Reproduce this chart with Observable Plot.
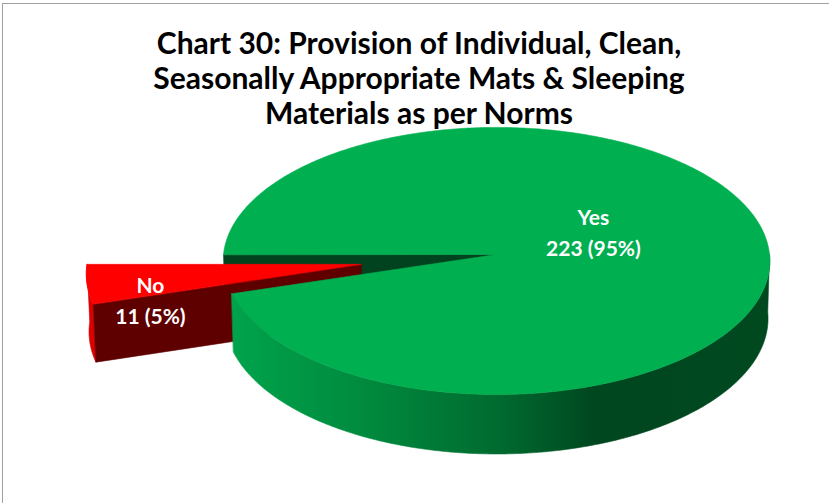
<!DOCTYPE html>
<html>
<head>
<meta charset="utf-8">
<script src="https://cdn.jsdelivr.net/npm/d3@7"></script>
<script src="https://cdn.jsdelivr.net/npm/@observablehq/plot@0.6"></script>
<style>
  body { margin: 0; background: #fff; }
  #wrap { position: relative; width: 829px; height: 503px; overflow: hidden; background: #fff; }
  #border { position: absolute; left: 2px; top: 3px; right: -10px; bottom: -10px;
            border-top: 1.5px solid #a0a0a0; border-left: 1.5px solid #a0a0a0; pointer-events: none; }
</style>
</head>
<body>
<div id="wrap"><div id="chart"></div><div id="border"></div></div>
<script>
// ---- data ----
const categories = ["Yes", "No"];
const values = [223, 11];
const titleLines = [
  "Chart 30: Provision of Individual, Clean,",
  "Seasonally Appropriate Mats & Sleeping",
  "Materials as per Norms"
];

// ---- styles ----
const topColors = ["#00b050", "#ff0000"];
const faceColors = ["#00431e", "#5e0000"];
const wallColors = ["url(#wallGrad0)", "#dc0000"];
const explode = [0, 0.5];
const labelRho = [0.36, 0.77];
const labelDy = [-17, 19];

// ---- 3D pie projection (perspective) ----
const W = 829, H = 503;
const cx = 496, cy = 254, K = 273;           // centre and scale (px per radius)
const rD = 0.0553;                            // radius / camera distance
const sinP = 0.488, cosP = 0.873;             // elevation
const thick = 0.243;                          // pie thickness in radii

function P(X, Y, Z) {
  const den = 1 - rD * (Y * cosP + Z * sinP);
  return {x: cx + K * X / den, y: cy + K * (Y * sinP - Z * cosP) / den};
}

const total = d3.sum(values);
const startDeg = 180 + 360 * values[values.length - 1] / total;
let acc = startDeg;
const slices = categories.map((c, i) => {
  const a0 = acc, a1 = acc + 360 * values[i] / total;
  acc = a1;
  const mid = (a0 + a1) / 2, m = mid * Math.PI / 180;
  return {i, c, v: values[i], a0, a1, mid,
          ox: explode[i] * Math.cos(m), oy: -explode[i] * Math.sin(m)};
});

function pt(s, a, z, rho = 1) {
  const t = a * Math.PI / 180;
  return P(s.ox + rho * Math.cos(t), s.oy - rho * Math.sin(t), z);
}
function arc(s, b0, b1, z) {
  const n = Math.max(2, Math.ceil(Math.abs(b1 - b0) / 0.75));
  return d3.range(n + 1).map(k => pt(s, b0 + (b1 - b0) * k / n, z));
}
function topFace(s) { return [pt(s, 0, 0, 0), ...arc(s, s.a0, s.a1, 0)]; }
function radialFace(s, a) {
  return [pt(s, a, 0, 0), pt(s, a, 0, 1), pt(s, a, -thick, 1), pt(s, a, -thick, 0)];
}
function walls(s) {
  const base = s.a0 - 360 * Math.floor(s.a0 / 360);
  const end = base + (s.a1 - s.a0);
  const out = [];
  for (const [f0, f1] of [[180, 360], [540, 720]]) {
    const b0 = Math.max(base, f0), b1 = Math.min(end, f1);
    if (b1 > b0) out.push([...arc(s, b0, b1, 0), ...arc(s, b1, b0, -thick)]);
  }
  return out;
}
function faces(s) {
  const out = [];
  if (Math.cos(s.a0 * Math.PI / 180) > 0) out.push(radialFace(s, s.a0));
  if (-Math.cos(s.a1 * Math.PI / 180) > 0) out.push(radialFace(s, s.a1));
  return out;
}

const poly = (pts, color) => Plot.line(pts, {
  x: "x", y: "y", fill: color, stroke: color, strokeWidth: 0.6, curve: "linear-closed"
});

const layers = [];
slices.filter(s => explode[s.i] === 0).forEach(s =>
  faces(s).forEach(f => layers.push(poly(f, faceColors[s.i]))));
slices.filter(s => explode[s.i] > 0).forEach(s => {
  walls(s).forEach(w => layers.push(poly(w, wallColors[s.i])));
  faces(s).forEach(f => layers.push(poly(f, faceColors[s.i])));
  layers.push(poly(topFace(s), topColors[s.i]));
});
slices.filter(s => explode[s.i] === 0).forEach(s => {
  walls(s).forEach(w => layers.push(poly(w, wallColors[s.i])));
  layers.push(poly(topFace(s), topColors[s.i]));
});

const labels = slices.map(s => {
  const p = pt(s, s.mid, 0, labelRho[s.i]);
  return {x: p.x, y: p.y + labelDy[s.i],
          text: `${s.c}\n${s.v} (${Math.round(100 * s.v / total)}%)`};
});

// gradient extent for the big slice wall
const s0 = slices[0];
const gx0 = pt(s0, s0.a0, 0).x, gx1 = pt(s0, 360, 0).x;

const svg = Plot.plot({
  width: W, height: H, margin: 0,
  x: {type: "identity", axis: null},
  y: {type: "identity", axis: null},
  style: {fontFamily: "Lato, sans-serif", background: "white"},
  marks: [
    ...layers,
    Plot.text(labels, {x: "x", y: "y", text: "text", fill: "white",
      fontSize: 21, fontWeight: "bold", lineHeight: 31 / 21}),
    Plot.text([titleLines.join("\n")], {frameAnchor: "top", dx: 4, dy: 28.5,
      fontSize: 30, fontWeight: "bold", lineHeight: 35 / 30, fill: "black"})
  ]
});

d3.select(svg).insert("defs", ":first-child").html(`
  <linearGradient id="wallGrad0" gradientUnits="userSpaceOnUse" x1="${gx0}" y1="0" x2="${gx1}" y2="0">
    <stop offset="0" stop-color="#00a34b"/>
    <stop offset="0.25" stop-color="#008a3e"/>
    <stop offset="0.5" stop-color="#006a2f"/>
    <stop offset="0.68" stop-color="#00461f"/>
    <stop offset="1" stop-color="#00491f"/>
  </linearGradient>`);

document.getElementById("chart").appendChild(svg);
</script>
</body>
</html>
